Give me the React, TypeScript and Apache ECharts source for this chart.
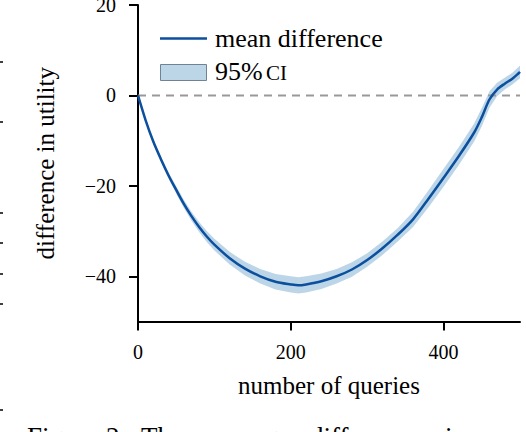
import React, { useEffect, useRef } from "react";
import * as echarts from "echarts";

// number of queries (x)
const queries = [0, 10, 20, 30, 40, 50, 60, 70, 80, 90, 100, 120, 140, 160, 180, 200, 210, 220, 240, 260, 280, 300, 320, 340, 360, 380, 400, 420, 440, 450, 460, 470, 480, 490, 500];
// mean difference in utility
const meanDiff = [0, -5.5, -10.2, -14.1, -17.7, -20.9, -24.0, -26.7, -29.1, -31.2, -33.0, -36.0, -38.3, -40.0, -41.2, -41.8, -42.0, -41.8, -41.1, -40.0, -38.5, -36.4, -33.8, -30.8, -27.4, -22.9, -18.2, -13.4, -8.2, -4.8, -0.9, 1.3, 2.6, 3.7, 5.2];
// 95% CI bounds
const ciUpper = [0, -5.2, -9.7, -13.5, -17.0, -20.1, -23.1, -25.7, -28.0, -30.0, -31.7, -34.6, -36.8, -38.4, -39.5, -40.0, -40.2, -40.0, -39.4, -38.4, -36.9, -34.9, -32.3, -29.3, -25.7, -21.0, -16.2, -11.4, -6.2, -2.8, 0.9, 2.8, 3.9, 5.0, 6.6];
const ciLower = [0, -5.8, -10.7, -14.7, -18.4, -21.7, -24.9, -27.7, -30.2, -32.4, -34.3, -37.4, -39.8, -41.6, -42.9, -43.6, -43.8, -43.6, -42.8, -41.6, -40.1, -37.9, -35.3, -32.3, -29.1, -24.8, -20.2, -15.4, -10.2, -6.8, -2.7, -0.2, 1.3, 2.4, 3.8];
// reference line at zero
const zeroLineX = [0, 500];
const zeroLineY = [0, 0];
// tick labels
const xTicks = [0, 200, 400];
const yTicks = [-40, -20, 0, 20];
// caption words (cut by the bottom edge)
const captionWords = ["Figure", "2:", "The", "average", "difference", "in", "cumulati"];
const captionX = [27, 106, 141, 206, 310, 445, 480];

const SERIF = "'Liberation Serif', 'DejaVu Serif', serif";
const LINE_COLOR = "#0b4f9e";
const BAND_COLOR = "#bcd6e7";

export default function App() {
  const ref = useRef<HTMLDivElement>(null);
  useEffect(() => {
    document.body.style.margin = "0";
    const chart = echarts.init(ref.current!, null, { renderer: "svg" });
    const bandData = queries.map((q, i) => [q, ciLower[i], ciUpper[i]]);
    const option: any = {
      animation: false,
      backgroundColor: "#ffffff",
      grid: { left: 138, right: 6, top: 5, bottom: 110.5, containLabel: false, outerBoundsMode: "none" },
      xAxis: {
        type: "value",
        min: 0,
        max: 500,
        interval: 200,
        name: "number of queries",
        nameLocation: "middle",
        nameGap: 51,
        nameTextStyle: { fontFamily: SERIF, fontSize: 25, color: "#000" },
        axisLine: { show: true, onZero: false, lineStyle: { color: "#000", width: 2 } },
        axisTick: { show: true, length: 9, lineStyle: { color: "#000", width: 2 }, customValues: xTicks },
        axisLabel: { fontFamily: SERIF, fontSize: 20, color: "#000", margin: 20, customValues: xTicks },
        splitLine: { show: false },
      },
      yAxis: {
        type: "value",
        min: -50,
        max: 20,
        name: "difference in utility",
        nameLocation: "middle",
        nameGap: 80,
        nameTextStyle: { fontFamily: SERIF, fontSize: 25, color: "#000" },
        axisLine: { show: true, onZero: false, lineStyle: { color: "#000", width: 2 } },
        axisTick: { show: true, length: 9, lineStyle: { color: "#000", width: 2 }, customValues: yTicks },
        axisLabel: {
          fontFamily: SERIF,
          fontSize: 20,
          color: "#000",
          margin: 22,
          customValues: yTicks,
          formatter: (v: number) => (v < 0 ? "\u2212" + Math.abs(v) : String(v)),
        },
        splitLine: { show: false },
      },
      series: [
        {
          type: "custom",
          name: "95% CI",
          silent: true,
          z: 1,
          data: bandData,
          encode: { x: 0, y: [1, 2] },
          renderItem: (params: any, api: any) => {
            if (params.dataIndex !== 0) return null;
            const pts: number[][] = [];
            for (let i = 0; i < queries.length; i++) pts.push(api.coord([queries[i], ciUpper[i]]));
            for (let i = queries.length - 1; i >= 0; i--) pts.push(api.coord([queries[i], ciLower[i]]));
            return { type: "polygon", shape: { points: pts }, style: { fill: BAND_COLOR, stroke: "none" } };
          },
        },
        {
          type: "line",
          name: "zero",
          silent: true,
          z: 2,
          symbol: "none",
          data: zeroLineX.map((x, i) => [x, zeroLineY[i]]),
          lineStyle: { color: "#999999", width: 2, type: [8, 6] },
        },
        {
          type: "line",
          name: "mean difference",
          z: 3,
          symbol: "none",
          smooth: 0.3,
          data: queries.map((q, i) => [q, meanDiff[i]]),
          lineStyle: { color: LINE_COLOR, width: 2.5 },
        },
      ],
      graphic: [
        // legend
        { type: "line", shape: { x1: 160, y1: 38.5, x2: 207, y2: 38.5 }, style: { stroke: LINE_COLOR, lineWidth: 2.5 } },
        {
          type: "text",
          x: 215,
          y: 38,
          style: { text: "mean difference", font: `26px ${SERIF}`, fill: "#000", verticalAlign: "middle", align: "left" },
        },
        { type: "rect", shape: { x: 160.5, y: 64.5, width: 46, height: 16 }, style: { fill: BAND_COLOR, stroke: "#6f8296", lineWidth: 1 } },
        {
          type: "text",
          x: 215,
          y: 71,
          style: { text: "95%", font: `26px ${SERIF}`, fill: "#000", verticalAlign: "middle", align: "left" },
        },
        {
          type: "text",
          x: 266,
          y: 73,
          style: { text: "CI", font: `21px ${SERIF}`, fill: "#000", verticalAlign: "middle", align: "left" },
        },
        // caption cut by the bottom edge
        ...captionWords.map((w, i) => ({
          type: "text",
          x: captionX[i],
          y: 423.5,
          style: { text: w, font: `27px ${SERIF}`, fill: "#000", verticalAlign: "top", align: "left" },
        })),
        // stray marks on the left border
        ...[62, 122, 213, 243, 274, 304, 410].map((y) => ({
          type: "line",
          shape: { x1: 0, y1: y, x2: 3, y2: y },
          style: { stroke: "#000", lineWidth: 1.5 },
        })),
      ],
    };
    chart.setOption(option);
    return () => chart.dispose();
  }, []);
  return <div ref={ref} style={{ width: 526, height: 432, position: "absolute", left: 0, top: 0 }} />;
}
